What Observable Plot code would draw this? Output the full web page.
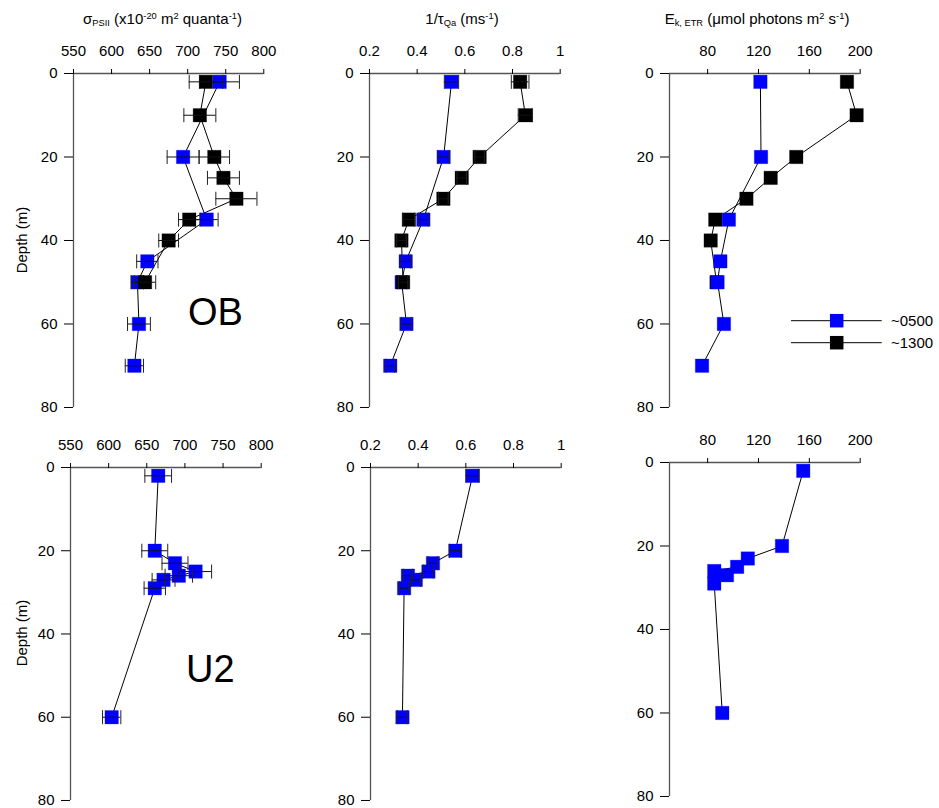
<!DOCTYPE html>
<html><head><meta charset="utf-8">
<script src="https://cdn.jsdelivr.net/npm/d3@7"></script>
<script src="https://cdn.jsdelivr.net/npm/@observablehq/plot@0.6"></script>
<style>
body{margin:0;background:#fff;}
#fig{position:relative;width:939px;height:808px;overflow:hidden;font-family:"Liberation Sans",Arial,sans-serif;color:#000;background:#fff;}
.panel{position:absolute;}
.title{position:absolute;font-size:15px;line-height:1;white-space:nowrap;transform:translateX(-50%);}
.sub{font-size:0.62em;position:relative;top:0.25em;}
.sup{font-size:0.62em;position:relative;top:-0.55em;}
.site{position:absolute;font-size:38px;line-height:1;}
.ylab{position:absolute;font-size:15px;line-height:1;white-space:nowrap;transform:translate(-50%,-50%) rotate(-90deg);}
</style></head><body><div id="fig"></div>
<script>
// ---------------- data ----------------
const depthTicks = [0, 20, 40, 60, 80];
const sigmaTicks = [550, 600, 650, 700, 750, 800];
const tauTicks = [0.2, 0.4, 0.6, 0.8, 1];
const ekTicks = [80, 120, 160, 200];
const seriesNames = ["~0500", "~1300"];
const seriesColors = ["#0000ff", "#000000"];

// OB station, ~0500
const obDepth0500 = [2, 20, 35, 45, 50, 60, 70];
const obSigma0500 = [742, 694, 725, 647, 634, 636, 630];
const obSigmaErr0500 = [26, 21, 15, 14, 8, 15, 12];
const obTau0500 = [0.544, 0.511, 0.426, 0.352, 0.335, 0.355, 0.287];
const obTauErr0500 = [0.03, 0.024, 0.02, 0.02, 0.02, 0.02, 0.018];
const obEk0500 = [121.5, 122, 96.7, 90, 87.8, 92.8, 75.6];

// OB station, ~1300
const obDepth1300 = [2, 10, 20, 25, 30, 35, 40, 50];
const obSigma1300 = [724, 716, 735, 747, 764, 702, 675, 644];
const obSigmaErr1300 = [22, 21, 20, 21, 27, 14, 13, 14];
const obTau1300 = [0.832, 0.854, 0.662, 0.587, 0.510, 0.365, 0.334, 0.341];
const obTauErr1300 = [0.037, 0.03, 0.02, 0.02, 0.02, 0.025, 0.02, 0.02];
const obEk1300 = [189.6, 197.2, 149.7, 129.6, 110.5, 86, 82.4, 87];

// U2 station, ~0500
const u2Depth0500 = [2, 20, 23, 25, 26, 27, 29, 60];
const u2Sigma0500 = [665, 660.5, 687, 714, 692, 672, 660.5, 604];
const u2SigmaErr0500 = [17.5, 17, 17, 21, 18, 15, 14, 12];
const u2Tau0500 = [0.628, 0.556, 0.462, 0.443, 0.357, 0.39, 0.341, 0.334];
const u2TauErr0500 = [0.028, 0.025, 0.02, 0.02, 0.02, 0.02, 0.02, 0.02];
const u2Ek0500 = [155.2, 138.5, 111.6, 103.2, 85.2, 95.2, 85.2, 91.5];

// ---------------- helpers ----------------
const rows = (depth, vals, errs) => depth.map((d, i) => ({d, v: vals[i], e: errs ? errs[i] : 0}));
const fig = document.getElementById("fig");
const ML = 60, MT = 40, MR = 25, MB = 14;
const capSymbol = {draw(ctx) { ctx.moveTo(0, -7); ctx.lineTo(0, 7); }};
const tauFmt = d => String(+d.toFixed(1));

function panel({x0, x1, y0, y1, domain, ticks, fmt, series}) {
  const width = ML + (x1 - x0) + MR;
  const height = MT + (y1 - y0) + MB;
  const marks = [];
  for (const s of series) marks.push(Plot.line(s.data, {x: "v", y: "d", stroke: "#000", strokeWidth: 1}));
  for (const s of series) {
    marks.push(Plot.dot(s.data, {x: "v", y: "d", symbol: "square", r: 7.6, fill: s.color, stroke: s.color, strokeOpacity: 0.35, strokeWidth: 0.8}));
    if (s.err) {
      marks.push(Plot.ruleY(s.data, {y: "d", x1: r => r.v - r.e, x2: r => r.v + r.e, stroke: "#111", strokeWidth: 1}));
      marks.push(Plot.dot(s.data, {x: r => r.v - r.e, y: "d", symbol: capSymbol, r: 1, fill: "none", stroke: "#222", strokeWidth: 1}));
      marks.push(Plot.dot(s.data, {x: r => r.v + r.e, y: "d", symbol: capSymbol, r: 1, fill: "none", stroke: "#222", strokeWidth: 1}));
    }
  }
  marks.push(Plot.ruleY([0], {stroke: "#555", strokeWidth: 1.3}));
  marks.push(Plot.ruleX([domain[0]], {stroke: "#555", strokeWidth: 1.3}));
  marks.push(Plot.axisX({anchor: "top", ticks, tickFormat: fmt, tickSize: 5, tickPadding: 12, label: null, stroke: "#000", fontSize: 15}));
  marks.push(Plot.axisY({anchor: "left", ticks: depthTicks, tickSize: 9, tickPadding: 7, label: null, stroke: "#000", fontSize: 15}));
  const chart = Plot.plot({
    width, height,
    marginLeft: ML, marginRight: MR, marginTop: MT, marginBottom: MB,
    x: {domain, axis: null},
    y: {domain: [0, 80], reverse: true, axis: null},
    style: {fontFamily: "Liberation Sans, Arial, sans-serif", fontSize: "15px", background: "transparent", overflow: "visible", color: "#000"},
    marks
  });
  chart.classList.add("panel");
  chart.style.left = (x0 - ML) + "px";
  chart.style.top = (y0 - MT) + "px";
  fig.appendChild(chart);
}

// ---------------- top row: OB ----------------
panel({x0: 72.7, x1: 263, y0: 73, y1: 407, domain: [550, 800], ticks: sigmaTicks, fmt: d => String(d),
  series: [
    {color: seriesColors[0], err: true, data: rows(obDepth0500, obSigma0500, obSigmaErr0500)},
    {color: seriesColors[1], err: true, data: rows(obDepth1300, obSigma1300, obSigmaErr1300)}
  ]});
panel({x0: 369, x1: 559.7, y0: 73, y1: 407, domain: [0.2, 1], ticks: tauTicks, fmt: tauFmt,
  series: [
    {color: seriesColors[0], err: true, data: rows(obDepth0500, obTau0500, obTauErr0500)},
    {color: seriesColors[1], err: true, data: rows(obDepth1300, obTau1300, obTauErr1300)}
  ]});
panel({x0: 669, x1: 859.7, y0: 73, y1: 407, domain: [50, 200], ticks: ekTicks, fmt: d => String(d),
  series: [
    {color: seriesColors[1], err: false, data: rows(obDepth1300, obEk1300)},
    {color: seriesColors[0], err: false, data: rows(obDepth0500, obEk0500)}
  ]});

// ---------------- bottom row: U2 ----------------
panel({x0: 70, x1: 260.7, y0: 467, y1: 800, domain: [550, 800], ticks: sigmaTicks, fmt: d => String(d),
  series: [{color: seriesColors[0], err: true, data: rows(u2Depth0500, u2Sigma0500, u2SigmaErr0500)}]});
panel({x0: 370.3, x1: 561, y0: 467, y1: 800, domain: [0.2, 1], ticks: tauTicks, fmt: tauFmt,
  series: [{color: seriesColors[0], err: true, data: rows(u2Depth0500, u2Tau0500, u2TauErr0500)}]});
panel({x0: 669, x1: 859.7, y0: 462, y1: 796, domain: [50, 200], ticks: ekTicks, fmt: d => String(d),
  series: [{color: seriesColors[0], err: false, data: rows(u2Depth0500, u2Ek0500)}]});

// ---------------- texts ----------------
function addHTML(cls, html, left, top) {
  const el = document.createElement("div");
  el.className = cls; el.innerHTML = html;
  el.style.left = left + "px"; el.style.top = top + "px";
  fig.appendChild(el);
}
addHTML("title", 'σ<span class="sub">PSII</span> (x10<span class="sup">-20</span> m<span class="sup">2</span> quanta<span class="sup">-1</span>)', 162.5, 11);
addHTML("title", '1/τ<span class="sub">Qa</span> (ms<span class="sup">-1</span>)', 462, 11);
addHTML("title", 'E<span class="sub">k, ETR</span> (μmol photons m<span class="sup">2</span> s<span class="sup">-1</span>)', 757, 11);
addHTML("ylab", "Depth (m)", 21, 240);
addHTML("ylab", "Depth (m)", 21, 633);
addHTML("site", "OB", 188, 293);
addHTML("site", "U2", 186, 650);

// ---------------- legend ----------------
const ns = "http://www.w3.org/2000/svg";
const leg = document.createElementNS(ns, "svg");
leg.setAttribute("width", 159); leg.setAttribute("height", 50);
leg.style.position = "absolute"; leg.style.left = "780px"; leg.style.top = "305px";
seriesNames.forEach((name, i) => {
  const y = 15.7 + i * 22;
  const g = document.createElementNS(ns, "g");
  g.innerHTML = `<line x1="11" x2="101.7" y1="${y}" y2="${y}" stroke="#000" stroke-width="1"/>` +
    `<rect x="${56.7 - 6.75}" y="${y - 6.75}" width="13.5" height="13.5" fill="${seriesColors[i]}"/>` +
    `<text x="111" y="${y + 5.4}" font-size="15" font-family="Liberation Sans, Arial, sans-serif">${name}</text>`;
  leg.appendChild(g);
});
fig.appendChild(leg);
</script></body></html>
